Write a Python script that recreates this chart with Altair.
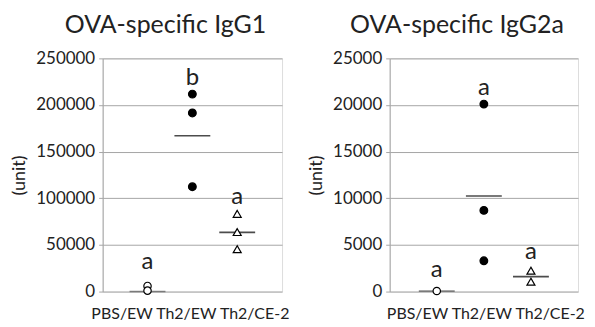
import altair as alt
import pandas as pd

# ---- data ----
groups = ["PBS/EW", "Th2/EW", "Th2/CE-2"]
group_x = [1, 2, 3]

# OVA-specific IgG1 (unit)
igg1_pbs = [6000, 1000]
igg1_th2ew = [211700, 191500, 112400]
igg1_th2ce = [83300, 63800, 45400]
igg1_means = [0, 167000, 63500]
igg1_letters = ["a", "b", "a"]
igg1_letter_y = [32000, 229000, 101000]
igg1_ticks = [0, 50000, 100000, 150000, 200000, 250000]

# OVA-specific IgG2a (unit)
igg2a_pbs = [60]
igg2a_th2ew = [20100, 8700, 3300]
igg2a_th2ce = [2230, 1060]
igg2a_means = [50, 10250, 1600]
igg2a_letters = ["a", "a", "a"]
igg2a_letter_y = [2300, 21800, 4250]
igg2a_ticks = [0, 5000, 10000, 15000, 20000, 25000]

FONT = "Lato"
GRID = "#a6a6a6"
TXT = "#222222"
H = 234


def panel(title, pbs, th2ew, th2ce, means, letters, letter_y, ticks, width, label_dx):
    rows = []
    for g, xv, vals in zip(groups, group_x, [pbs, th2ew, th2ce]):
        for v in vals:
            rows.append({"group": g, "x": xv, "value": v})
    pts = pd.DataFrame(rows)
    mdf = pd.DataFrame({"group": groups, "x": group_x, "value": means})
    ldf = pd.DataFrame({"group": groups, "x": group_x, "value": letter_y, "letter": letters})
    xdf = pd.DataFrame({"label": [" ".join(groups)]})

    xs = alt.X("x:Q", scale=alt.Scale(domain=[0, 4]), axis=None)
    ys = alt.Y(
        "value:Q",
        scale=alt.Scale(domain=[ticks[0], ticks[-1]], nice=False),
        axis=alt.Axis(
            values=ticks, format="d", grid=True, gridColor=GRID, gridWidth=1,
            domainColor=GRID, tickColor=GRID, tickSize=4, labelPadding=4,
            labelFont=FONT, labelFontSize=17, labelColor=TXT,
            title="(unit)", titleFont=FONT, titleFontSize=18,
            titleFontWeight="normal", titleColor=TXT, titlePadding=7,
        ),
    )

    points = alt.Chart(pts).mark_point(filled=True, stroke="black", strokeWidth=1.2, opacity=1).encode(
        x=xs, y=ys,
        shape=alt.Shape("group:N", scale=alt.Scale(domain=groups, range=["circle", "circle", "triangle-up"]), legend=None),
        fill=alt.Fill("group:N", scale=alt.Scale(domain=groups, range=["white", "black", "white"]), legend=None),
        size=alt.Size("group:N", scale=alt.Scale(domain=groups, range=[55, 64, 90]), legend=None),
    )
    mean_ticks = alt.Chart(mdf).mark_tick(orient="horizontal", size=36, thickness=1.6).encode(
        x=xs, y=alt.Y("value:Q"),
        color=alt.Color("group:N", scale=alt.Scale(domain=groups, range=["#555555", "black", "black"]), legend=None),
    )
    letter_marks = alt.Chart(ldf).mark_text(font=FONT, fontSize=24, color=TXT, baseline="middle").encode(
        x=xs, y=alt.Y("value:Q"), text="letter:N",
    )
    xlabel = alt.Chart(xdf).mark_text(font=FONT, fontSize=16, color=TXT, baseline="middle", dx=label_dx).encode(
        x=alt.datum(2), y=alt.value(H + 23), text="label:N",
    )
    return alt.layer(mean_ticks, points, letter_marks, xlabel).properties(
        width=width, height=H,
        title=alt.TitleParams(title, font=FONT, fontSize=25, fontWeight="normal", color=TXT,
                              anchor="middle", frame="group", dx=-27, offset=11),
    )


left = panel("OVA-specific IgG1", igg1_pbs, igg1_th2ew, igg1_th2ce, igg1_means,
             igg1_letters, igg1_letter_y, igg1_ticks, 180, -2)
right = panel("OVA-specific IgG2a", igg2a_pbs, igg2a_th2ew, igg2a_th2ce, igg2a_means,
              igg2a_letters, igg2a_letter_y, igg2a_ticks, 189, 2)

chart = alt.hconcat(left, right, spacing=16).properties(
    padding={"left": 2, "top": 4, "right": 0, "bottom": 0}
).configure_view(stroke=None).configure(background="white")

chart.save("out.html", embed_options={"renderer": "svg", "actions": False})
